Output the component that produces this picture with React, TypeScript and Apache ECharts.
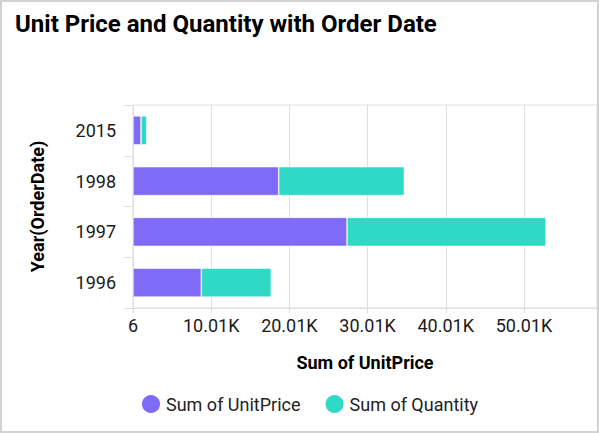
import { useEffect, useRef } from "react";
import * as echarts from "echarts";

// 数据：按年份堆叠的单价与数量
const years = ["1996", "1997", "1998", "2015"];
const unitPrice = [8740, 27380, 18640, 1030];
const quantity = [8950, 25450, 16070, 730];

const AXIS_MIN = 6;
const AXIS_STEP = 10000;
const AXIS_MAX = 59350;

const PURPLE = "#806bf6";
const TEAL = "#2ed9c6";
const GRID_LINE = "#dedede";
const FONT = "Roboto, 'Noto Sans', sans-serif";

function formatK(v: number) {
  if (v < 1000) return String(Math.round(v));
  return (v / 1000).toFixed(2) + "K";
}

export default function App() {
  const chartRef = useRef<HTMLDivElement>(null);

  useEffect(() => {
    document.body.style.margin = "0";
    if (!chartRef.current) return;
    const chart = echarts.init(chartRef.current, undefined, { renderer: "svg" });

    chart.setOption({
      animation: false,
      textStyle: { fontFamily: FONT },
      title: {
        text: "Unit Price and Quantity with Order Date",
        left: 8,
        top: 5,
        textStyle: { fontSize: 24, fontWeight: "bold", color: "#000000", fontFamily: FONT },
      },
      legend: {
        left: 133,
        top: 386,
        icon: "circle",
        itemWidth: 20,
        itemHeight: 20,
        itemGap: 23,
        textStyle: { fontSize: 18, color: "#222222", fontFamily: FONT },
        data: ["Sum of UnitPrice", "Sum of Quantity"],
      },
      grid: {
        left: 131,
        right: 0,
        top: 103,
        bottom: 123,
        show: true,
        borderColor: GRID_LINE,
        borderWidth: 1,
      },
      xAxis: {
        type: "value",
        min: AXIS_MIN,
        max: AXIS_MAX,
        interval: AXIS_STEP,
        name: "Sum of UnitPrice",
        nameLocation: "middle",
        nameGap: 45,
        nameTextStyle: { fontSize: 18, fontWeight: "bold", color: "#000000", fontFamily: FONT },
        axisLine: { show: true, lineStyle: { color: GRID_LINE } },
        axisTick: { show: true, length: 5, lineStyle: { color: GRID_LINE } },
        splitLine: { show: true, lineStyle: { color: GRID_LINE, width: 1 } },
        axisLabel: {
          fontSize: 18,
          color: "#1a1a1a",
          margin: 8,
          showMaxLabel: false,
          formatter: (v: number) => formatK(v),
        },
      },
      yAxis: {
        type: "category",
        data: years,
        name: "Year(OrderDate)",
        nameLocation: "middle",
        nameGap: 87,
        nameTextStyle: { fontSize: 18, fontWeight: "bold", color: "#000000", fontFamily: FONT },
        axisLine: { show: true, lineStyle: { color: GRID_LINE } },
        axisTick: { show: true, length: 9, lineStyle: { color: GRID_LINE } },
        splitLine: { show: false },
        axisLabel: { fontSize: 18, color: "#1a1a1a", margin: 17 },
      },
      series: [
        {
          name: "Sum of UnitPrice",
          type: "bar",
          stack: "total",
          data: unitPrice,
          barWidth: 29,
          itemStyle: { color: PURPLE, borderColor: "#ffffff", borderWidth: 0.6 },
        },
        {
          name: "Sum of Quantity",
          type: "bar",
          stack: "total",
          data: quantity,
          barWidth: 29,
          itemStyle: { color: TEAL, borderColor: "#ffffff", borderWidth: 0.6 },
        },
      ],
    });

    return () => chart.dispose();
  }, []);

  return (
    <div
      style={{
        width: 599,
        height: 433,
        boxSizing: "border-box",
        border: "2px solid #d2d2d2",
        background: "#ffffff",
      }}
    >
      <div ref={chartRef} style={{ width: 595, height: 429 }} />
    </div>
  );
}
